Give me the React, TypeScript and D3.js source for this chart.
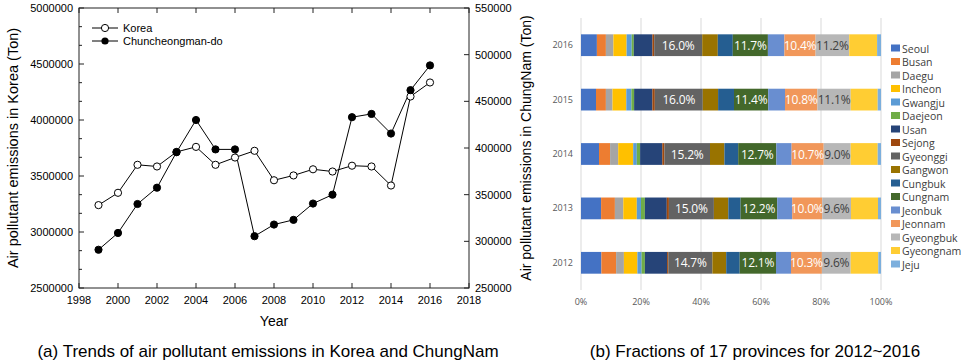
import React from 'react';
import * as d3 from 'd3';

// left panel: yearly emissions
const years = [1999, 2000, 2001, 2002, 2003, 2004, 2005, 2006, 2007, 2008, 2009, 2010, 2011, 2012, 2013, 2014, 2015, 2016];
const korea = [3240000, 3350000, 3600000, 3585000, 3715000, 3760000, 3600000, 3665000, 3725000, 3462000, 3505000, 3560000, 3540000, 3592000, 3585000, 3415000, 4210000, 4335000];
const chungnam = [291000, 309000, 340000, 357500, 395500, 430000, 398500, 398500, 305500, 318000, 323000, 340500, 350000, 433000, 436500, 415500, 462000, 488500];
const yearTicks = [1998, 2000, 2002, 2004, 2006, 2008, 2010, 2012, 2014, 2016, 2018];
const koreaTicks = [2500000, 3000000, 3500000, 4000000, 4500000, 5000000];
const chungnamTicks = [250000, 300000, 350000, 400000, 450000, 500000, 550000];

// right panel: province shares (%)
const provinces = ['Seoul', 'Busan', 'Daegu', 'Incheon', 'Gwangju', 'Daejeon', 'Usan', 'Sejong', 'Gyeonggi', 'Gangwon', 'Cungbuk', 'Cungnam', 'Jeonbuk', 'Jeonnam', 'Gyeongbuk', 'Gyeongnam', 'Jeju'];
const provinceColors = ['#4472C4', '#ED7D31', '#A5A5A5', '#FFC000', '#5B9BD5', '#70AD47', '#264478', '#9E480E', '#636363', '#997300', '#255E91', '#43682B', '#698ED0', '#F1975A', '#B7B7B7', '#FFCD33', '#7CAFDD'];
const barYears = ['2016', '2015', '2014', '2013', '2012'];
const share2016 = [5.3, 3.0, 2.5, 4.4, 1.7, 0.7, 6.2, 0.6, 16.0, 5.2, 5.0, 11.7, 5.5, 10.4, 11.2, 9.3, 1.3];
const share2015 = [5.0, 3.3, 2.2, 4.6, 1.7, 0.9, 6.1, 0.8, 16.0, 5.1, 5.3, 11.4, 5.6, 10.8, 11.1, 9.0, 1.1];
const share2014 = [6.0, 3.7, 2.7, 5.0, 1.2, 1.1, 7.4, 0.7, 15.2, 4.8, 4.6, 12.7, 5.1, 10.7, 9.0, 9.0, 1.1];
const share2013 = [6.7, 4.6, 2.8, 4.5, 1.4, 1.3, 7.3, 0.7, 15.0, 4.8, 4.1, 12.2, 5.0, 10.0, 9.6, 9.0, 1.0];
const share2012 = [6.8, 4.9, 2.6, 4.5, 1.4, 1.1, 7.4, 0.4, 14.7, 4.6, 4.5, 12.1, 5.0, 10.3, 9.6, 9.2, 0.9];
const labelled = ['Gyeonggi', 'Cungnam', 'Jeonnam', 'Gyeongbuk'];
const pctTicks = [0, 0.2, 0.4, 0.6, 0.8, 1];

const LEFT_FONT = '"Liberation Sans", Arial, sans-serif';
const RIGHT_FONT = '"Open Sans", "Noto Sans", sans-serif';

function TrendPanel() {
  const x = d3.scaleLinear().domain([1998, 2018]).range([79, 469]);
  const yL = d3.scaleLinear().domain([2500000, 5000000]).range([288, 8]);
  const yR = d3.scaleLinear().domain([250000, 550000]).range([288, 8]);
  const [top, bottom] = [yL.range()[1], yL.range()[0]];
  const [left, right] = x.range();

  const lineK = d3.line<number>().x((d, i) => x(years[i])).y(d => yL(d));
  const lineC = d3.line<number>().x((d, i) => x(years[i])).y(d => yR(d));

  const minorL = d3.range(2500000, 5000000, 500000 / 3).filter(v => !koreaTicks.includes(v));

  return (
    <g fontFamily={LEFT_FONT} fill="#000">
      <rect x={left} y={top} width={right - left} height={bottom - top} fill="none" stroke="#222" strokeWidth={1} />
      {yearTicks.map(t => (
        <g key={t}>
          <line x1={x(t)} x2={x(t)} y1={bottom} y2={bottom - 5} stroke="#222" />
          <line x1={x(t)} x2={x(t)} y1={top} y2={top + 5} stroke="#222" />
          <text x={x(t)} y={bottom + 16} textAnchor="middle" fontSize={11}>{t}</text>
        </g>
      ))}
      {koreaTicks.map(t => (
        <g key={t}>
          <line x1={left} x2={left + 5} y1={yL(t)} y2={yL(t)} stroke="#222" />
          <text x={left - 6} y={yL(t) + 4} textAnchor="end" fontSize={11}>{t}</text>
        </g>
      ))}
      {minorL.map(t => (
        <line key={t} x1={left} x2={left + 3} y1={yL(t)} y2={yL(t)} stroke="#222" />
      ))}
      {chungnamTicks.map(t => (
        <g key={t}>
          <line x1={right} x2={right - 5} y1={yR(t)} y2={yR(t)} stroke="#222" />
          <text x={right + 6} y={yR(t) + 4} textAnchor="start" fontSize={11}>{t}</text>
        </g>
      ))}
      <path d={lineK(korea) || ''} fill="none" stroke="#000" strokeWidth={1} />
      <path d={lineC(chungnam) || ''} fill="none" stroke="#000" strokeWidth={1} />
      {korea.map((v, i) => (
        <circle key={'k' + i} cx={x(years[i])} cy={yL(v)} r={3.6} fill="#fff" stroke="#000" strokeWidth={1} />
      ))}
      {chungnam.map((v, i) => (
        <circle key={'c' + i} cx={x(years[i])} cy={yR(v)} r={3.6} fill="#000" stroke="#000" />
      ))}
      {/* legend */}
      <line x1={92} x2={118} y1={28} y2={28} stroke="#000" />
      <circle cx={105} cy={28} r={3.6} fill="#fff" stroke="#000" />
      <text x={123} y={32} fontSize={11}>Korea</text>
      <line x1={92} x2={118} y1={41} y2={41} stroke="#000" />
      <circle cx={105} cy={41} r={3.6} fill="#000" />
      <text x={123} y={45} fontSize={11}>Chuncheongman-do</text>

      <text transform={`translate(18,${(top + bottom) / 2}) rotate(-90)`} textAnchor="middle" fontSize={14.5}>
        Air pollutant emissions in Korea (Ton)
      </text>
      <text x={x(2008)} y={326} textAnchor="middle" fontSize={14}>Year</text>
    </g>
  );
}

function SharePanel() {
  const rows = [share2016, share2015, share2014, share2013, share2012].map(r => {
    const total = d3.sum(r);
    return r.map(v => v / total);
  });
  const x = d3.scaleLinear().domain([0, 1]).range([581, 881]);
  const y = d3.scaleBand().domain(barYears).range([18, 290]).paddingInner(0.6).paddingOuter(0.3);
  const stack = d3.stack<number[], number>().keys(d3.range(provinces.length)).value((d, k) => d[k]);
  const series = stack(rows);

  return (
    <g fontFamily={RIGHT_FONT}>
      {pctTicks.map(t => (
        <g key={t}>
          <line x1={x(t)} x2={x(t)} y1={18} y2={290} stroke="#d9d9d9" strokeWidth={1} />
          <text x={x(t)} y={305} textAnchor="middle" fontSize={9} fill="#595959">{d3.format('.0%')(t)}</text>
        </g>
      ))}
      {series.map((s, k) => (
        <g key={k} fill={provinceColors[k]}>
          {s.map((seg, i) => (
            <rect key={i} x={x(seg[0])} y={y(barYears[i])} width={x(seg[1]) - x(seg[0])} height={y.bandwidth()} />
          ))}
        </g>
      ))}
      {series.map((s, k) => labelled.includes(provinces[k]) ? (
        <g key={'l' + k}>
          {s.map((seg, i) => (
            <text key={i} x={(x(seg[0]) + x(seg[1])) / 2} y={(y(barYears[i]) || 0) + y.bandwidth() / 2 + 4.5}
              textAnchor="middle" fontSize={12} letterSpacing={-0.2} fill={provinces[k] === 'Gyeongbuk' ? '#404040' : '#fff'}>
              {d3.format('.1f')(seg[1] * 100 - seg[0] * 100)}%
            </text>
          ))}
        </g>
      ) : null)}
      {barYears.map(yr => (
        <text key={yr} x={573} y={(y(yr) || 0) + y.bandwidth() / 2 + 3} textAnchor="end" fontSize={9} fill="#595959">{yr}</text>
      ))}
      {provinces.map((p, i) => (
        <g key={p}>
          <rect x={891} y={44.5 + i * 13.5} width={9} height={7} fill={provinceColors[i]} />
          <text x={902} y={52.5 + i * 13.5} fontSize={10.5} fill="#404040">{p}</text>
        </g>
      ))}
      <text transform="translate(531,148) rotate(-90)" textAnchor="middle" fontSize={14} fontFamily={LEFT_FONT} fill="#000">
        Air pollutant emissions in ChungNam (Ton)
      </text>
    </g>
  );
}

export default function App() {
  return (
    <svg width={961} height={363} style={{ position: 'absolute', left: 0, top: 0, background: '#fff' }}>
      <rect width={961} height={363} fill="#fff" />
      <TrendPanel />
      <SharePanel />
      <text x={268} y={357} textAnchor="middle" fontSize={17} fontFamily={LEFT_FONT}>
        (a) Trends of air pollutant emissions in Korea and ChungNam
      </text>
      <text x={755} y={357} textAnchor="middle" fontSize={17} fontFamily={LEFT_FONT}>
        (b) Fractions of 17 provinces for 2012~2016
      </text>
    </svg>
  );
}
